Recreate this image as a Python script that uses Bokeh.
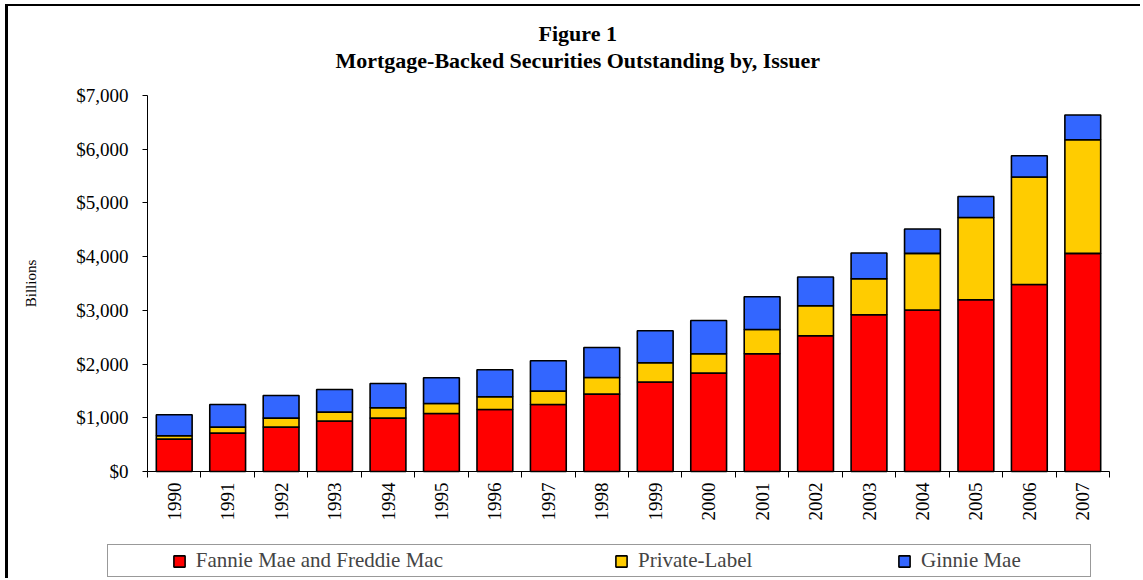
import math
from bokeh.plotting import figure
from bokeh.models import (Range1d, FixedTicker, NumeralTickFormatter, Legend,
                          LegendItem, Title, ColumnDataSource)
from bokeh.embed import file_html
from bokeh.resources import INLINE

# ---- data (billions of dollars) ----
years = ["1990", "1991", "1992", "1993", "1994", "1995", "1996", "1997", "1998",
         "1999", "2000", "2001", "2002", "2003", "2004", "2005", "2006", "2007"]
fannie_freddie = [603, 715, 827, 939, 994, 1080, 1155, 1248, 1441,
                  1665, 1832, 2192, 2527, 2918, 3006, 3197, 3482, 4060]
private_label = [62, 112, 167, 167, 192, 186, 236, 249, 309,
                 359, 360, 452, 559, 670, 1054, 1533, 2000, 2117]
ginnie_mae = [391, 421, 421, 421, 453, 479, 503, 564, 559,
              596, 620, 609, 534, 479, 454, 391, 397, 460]
y_ticks = [0, 1000, 2000, 3000, 4000, 5000, 6000, 7000]
series_names = ["Fannie Mae and Freddie Mac", "Private-Label", "Ginnie Mae"]
series_colors = ["#FF0000", "#FFCC00", "#3366FF"]

FONT = "Liberation Serif"

# ---- layout geometry (canvas pixels) ----
W, H = 1135, 574
AX_LEFT, AX_RIGHT = 139, 1101      # where the category axis starts / ends
AX_TOP, AX_BOTTOM = 89, 465        # where 7000 / 0 sit
FRAME_LEFT, FRAME_TOP = 0, 75      # plot frame (extends under labels and legend)
n = len(years)
y_max = 7000
px_x = (AX_RIGHT - AX_LEFT) / n
px_y = (AX_BOTTOM - AX_TOP) / y_max
x_start = -0.5 - (AX_LEFT - FRAME_LEFT) / px_x
x_end = n - 0.5 + (W - AX_RIGHT) / px_x
y_start = -(H - AX_BOTTOM) / px_y
y_end = y_max + (AX_TOP - FRAME_TOP) / px_y

idx = list(range(n))
source = ColumnDataSource(dict(x=idx, ff=fannie_freddie, pl=private_label, gm=ginnie_mae))

p = figure(width=W, height=H, output_backend="svg", toolbar_location=None,
           title=None, x_range=Range1d(x_start, x_end),
           y_range=Range1d(y_start, y_end))
p.styles = {"margin-left": "5px", "margin-top": "4px",
            "border-left": "3px solid black", "border-top": "2px solid black"}
p.min_border_left = FRAME_LEFT
p.min_border_right = 0
p.min_border_top = FRAME_TOP
p.min_border_bottom = 0
p.outline_line_color = None
p.xgrid.visible = False
p.ygrid.visible = False
p.background_fill_color = "white"
p.border_fill_color = "white"

renderers = p.vbar_stack(["ff", "pl", "gm"], x="x", width=0.67, source=source,
                         fill_color=series_colors, line_color="black", line_width=1.6)

# y axis (pinned at the left edge of the first category)
yax = p.yaxis[0]
yax.fixed_location = -0.5
yax.bounds = (0, y_max)
yax.ticker = FixedTicker(ticks=y_ticks)
yax.formatter = NumeralTickFormatter(format="$0,0")
yax.major_tick_out = 5
yax.major_tick_in = 0
yax.minor_tick_line_color = None
yax.major_label_text_font = FONT
yax.major_label_text_font_size = "19px"
yax.major_label_text_color = "black"
yax.major_label_standoff = 14
yax.axis_line_color = "black"
yax.major_tick_line_color = "black"
yax.axis_label = "Billions"
yax.axis_label_text_font = FONT
yax.axis_label_text_font_size = "15px"
yax.axis_label_text_font_style = "normal"
yax.axis_label_text_color = "black"
yax.axis_label_standoff = 34

# x axis pinned at y = 0: labels at bar centres, ticks at category boundaries
xax = p.xaxis[0]
xax.fixed_location = 0
xax.bounds = (-0.5, n - 0.5)
xax.ticker = FixedTicker(ticks=idx, minor_ticks=[i - 0.5 for i in range(n + 1)])
xax.major_label_overrides = {i: y for i, y in zip(idx, years)}
xax.major_label_orientation = math.pi / 2
xax.major_tick_line_color = None
xax.major_tick_out = 0
xax.major_tick_in = 0
xax.minor_tick_out = 6
xax.minor_tick_in = 0
xax.minor_tick_line_color = "black"
xax.axis_line_color = "black"
xax.major_label_text_font = FONT
xax.major_label_text_font_size = "19px"
xax.major_label_text_color = "black"
xax.major_label_standoff = 5

# titles: small spacer nearest the frame, then the subtitle line, then "Figure 1"
spacer = Title(text=" ", text_font_size="6px", standoff=1)
t2 = Title(text="Mortgage-Backed Securities Outstanding by, Issuer", align="left",
           offset=327, text_font=FONT, text_font_size="22px", text_font_style="bold",
           text_color="black", standoff=0)
t1 = Title(text="Figure 1", align="left", offset=530, text_font=FONT,
           text_font_size="22px", text_font_style="bold", text_color="black", standoff=0)
p.add_layout(spacer, "above")
p.add_layout(t2, "above")
p.add_layout(t1, "above")

# legend with invisible spacer items to reproduce the wide box
dummy = p.vbar(x=[], top=[], width=0.5, fill_alpha=0, line_alpha=0)
nb = "\u00a0"
items = [LegendItem(label=nb * 7, renderers=[dummy]),
         LegendItem(label=series_names[0], renderers=[renderers[0]]),
         LegendItem(label=nb * 28, renderers=[dummy]),
         LegendItem(label=series_names[1], renderers=[renderers[1]]),
         LegendItem(label=nb * 23, renderers=[dummy]),
         LegendItem(label=series_names[2], renderers=[renderers[2]]),
         LegendItem(label=nb * 8, renderers=[dummy])]
legend = Legend(items=items, orientation="horizontal", location=(99, 3),
                spacing=0, padding=3, margin=0, label_standoff=10,
                glyph_width=14, glyph_height=14, label_width=0, label_height=20,
                label_text_font=FONT, label_text_font_size="21px",
                border_line_color="#333333", border_line_width=1.5,
                background_fill_color="white", background_fill_alpha=1)
p.add_layout(legend, "center")

open("out.html", "w").write(file_html(p, INLINE))
